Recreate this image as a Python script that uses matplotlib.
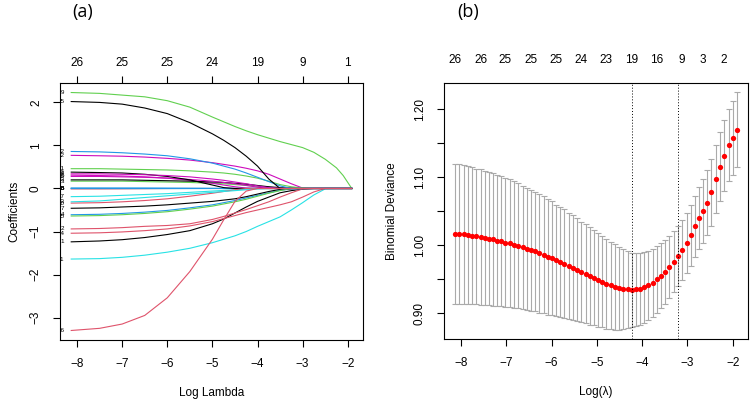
import matplotlib
matplotlib.use("Agg")
import matplotlib.pyplot as plt
import numpy as np

plt.rcParams['font.family'] = ['Liberation Sans', 'DejaVu Sans']

# ---------------- Panel (a): LASSO coefficient paths ----------------
path_log_lambda = [-8.13, -7.5, -7.0, -6.5, -6.0, -5.5, -5.0, -4.75, -4.5, -4.25,
                   -4.0, -3.75, -3.5, -3.25, -3.0, -2.75, -2.5, -2.25, -2.1, -1.91]

v01 = [-1.24, -1.22, -1.19, -1.14, -1.07, -0.98, -0.82, -0.71, -0.57, -0.43, -0.30, -0.20, -0.10, -0.05, -0.015, 0, 0, 0, 0, 0]
v02 = [-0.94, -0.93, -0.91, -0.88, -0.86, -0.82, -0.72, -0.65, -0.57, -0.49, -0.40, -0.31, -0.20, -0.10, -0.01, 0, 0, 0, 0, 0]
v03 = [0.17, 0.17, 0.17, 0.16, 0.15, 0.14, 0.12, 0.11, 0.09, 0.07, 0.05, 0.03, 0.01, 0, 0, 0, 0, 0, 0, 0]
v04 = [-0.61, -0.60, -0.58, -0.55, -0.51, -0.45, -0.38, -0.33, -0.28, -0.22, -0.16, -0.10, -0.04, -0.015, 0, 0, 0, 0, 0, 0]
v05 = [-0.004, -0.004, -0.003, -0.003, -0.002, -0.001, 0, 0, 0, 0, 0, 0, 0, 0, 0, 0, 0, 0, 0, 0]
v06 = [0.31, 0.30, 0.29, 0.27, 0.24, 0.19, 0.12, 0.08, 0.04, 0.01, 0, 0, 0, 0, 0, 0, 0, 0, 0, 0]
v07 = [-0.46, -0.45, -0.43, -0.41, -0.38, -0.34, -0.30, -0.27, -0.24, -0.19, -0.13, -0.07, -0.02, 0, 0, 0, 0, 0, 0, 0]
v08 = [-0.01, -0.01, -0.008, -0.005, -0.002, 0, 0, 0, 0, 0, 0, 0, 0, 0, 0, 0, 0, 0, 0, 0]
v09 = [2.23, 2.21, 2.17, 2.13, 2.04, 1.89, 1.66, 1.55, 1.44, 1.34, 1.25, 1.17, 1.09, 1.02, 0.95, 0.84, 0.68, 0.48, 0.30, 0.0]
v10 = [0.004, 0.004, 0.003, 0.002, 0.001, 0, 0, 0, 0, 0, 0, 0, 0, 0, 0, 0, 0, 0, 0, 0]
v11 = [-1.64, -1.63, -1.60, -1.55, -1.48, -1.39, -1.26, -1.18, -1.10, -1.00, -0.88, -0.77, -0.66, -0.50, -0.33, -0.15, -0.01, 0, 0, 0]
v12 = [0.77, 0.76, 0.75, 0.73, 0.70, 0.66, 0.60, 0.56, 0.52, 0.47, 0.41, 0.33, 0.22, 0.11, 0.01, 0, 0, 0, 0, 0]
v13 = [0.20, 0.20, 0.20, 0.19, 0.18, 0.17, 0.15, 0.14, 0.12, 0.10, 0.07, 0.04, 0.02, 0.005, 0, 0, 0, 0, 0, 0]
v14 = [-1.04, -1.03, -1.01, -0.98, -0.94, -0.87, -0.77, -0.70, -0.63, -0.56, -0.50, -0.44, -0.38, -0.31, -0.20, -0.08, 0, 0, 0, 0]
v15 = [-0.64, -0.63, -0.61, -0.58, -0.54, -0.48, -0.41, -0.36, -0.31, -0.25, -0.18, -0.11, -0.05, 0, 0, 0, 0, 0, 0, 0]
v16 = [0.01, 0.01, 0.01, 0.01, 0.008, 0.005, 0.002, 0, 0, 0, 0, 0, 0, 0, 0, 0, 0, 0, 0, 0]
v17 = [-0.19, -0.18, -0.16, -0.14, -0.12, -0.09, -0.06, -0.045, -0.03, -0.015, 0, 0, 0, 0, 0, 0, 0, 0, 0, 0]
v18 = [0.28, 0.28, 0.27, 0.26, 0.24, 0.21, 0.17, 0.14, 0.11, 0.07, 0.03, 0, 0, 0, 0, 0, 0, 0, 0, 0]
v19 = [0.38, 0.37, 0.36, 0.33, 0.28, 0.20, 0.08, 0.02, 0, 0, 0, 0, 0, 0, 0, 0, 0, 0, 0, 0]
v20 = [-0.34, -0.33, -0.31, -0.28, -0.24, -0.18, -0.11, -0.07, -0.03, 0, 0, 0, 0, 0, 0, 0, 0, 0, 0, 0]
v21 = [0.46, 0.46, 0.45, 0.44, 0.43, 0.41, 0.38, 0.36, 0.33, 0.29, 0.24, 0.17, 0.09, 0.04, 0.01, 0, 0, 0, 0, 0]
v22 = [0.86, 0.85, 0.83, 0.80, 0.76, 0.69, 0.59, 0.52, 0.45, 0.36, 0.26, 0.16, 0.06, 0, 0, 0, 0, 0, 0, 0]
v23 = [-0.31, -0.29, -0.25, -0.21, -0.17, -0.13, -0.09, -0.07, -0.05, -0.03, -0.01, 0, 0, 0, 0, 0, 0, 0, 0, 0]
v24 = [0.34, 0.34, 0.33, 0.32, 0.30, 0.27, 0.22, 0.19, 0.15, 0.11, 0.06, 0.02, 0, 0, 0, 0, 0, 0, 0, 0]
v25 = [2.02, 2.00, 1.96, 1.87, 1.74, 1.53, 1.27, 1.12, 0.95, 0.75, 0.52, 0.22, 0, 0, 0, 0, 0, 0, 0, 0]
v26 = [-3.30, -3.25, -3.15, -2.95, -2.54, -1.93, -1.18, -0.73, -0.30, -0.06, 0, 0, 0, 0, 0, 0, 0, 0, 0, 0]

coef_paths = [v01, v02, v03, v04, v05, v06, v07, v08, v09, v10, v11, v12, v13,
              v14, v15, v16, v17, v18, v19, v20, v21, v22, v23, v24, v25, v26]
var_ids = list(range(1, 27))

path_top_ticks = [-8, -7, -6, -5, -4, -3, -2]
path_top_nz = [26, 25, 25, 24, 19, 9, 1]

# ---------------- Panel (b): cross-validation deviance ----------------
cv_log_lambda = [-8.13, -8.04, -7.94, -7.85, -7.76, -7.67, -7.57, -7.48, -7.39, -7.29,
                 -7.20, -7.11, -7.02, -6.92, -6.83, -6.74, -6.64, -6.55, -6.46, -6.37,
                 -6.27, -6.18, -6.09, -5.99, -5.90, -5.81, -5.72, -5.62, -5.53, -5.44,
                 -5.35, -5.25, -5.16, -5.07, -4.97, -4.88, -4.79, -4.69, -4.60, -4.51,
                 -4.42, -4.32, -4.23, -4.14, -4.04, -3.95, -3.86, -3.77, -3.67, -3.58,
                 -3.49, -3.40, -3.30, -3.21, -3.12, -3.02, -2.93, -2.84, -2.75, -2.65,
                 -2.56, -2.47, -2.37, -2.28, -2.19, -2.09, -2.00, -1.91]
cv_mean = [1.017, 1.016, 1.016, 1.015, 1.014, 1.013, 1.012, 1.011, 1.010, 1.009,
           1.007, 1.006, 1.004, 1.003, 1.001, 0.999, 0.997, 0.995, 0.993, 0.991,
           0.988, 0.986, 0.983, 0.981, 0.978, 0.975, 0.973, 0.970, 0.967, 0.964,
           0.961, 0.958, 0.955, 0.952, 0.949, 0.946, 0.943, 0.941, 0.939, 0.937,
           0.936, 0.935, 0.934, 0.935, 0.936, 0.938, 0.941, 0.945, 0.950, 0.955,
           0.961, 0.968, 0.976, 0.984, 0.993, 1.003, 1.015, 1.028, 1.040, 1.050,
           1.063, 1.078, 1.097, 1.116, 1.132, 1.147, 1.158, 1.170]
cv_se = [0.103, 0.103, 0.102, 0.102, 0.101, 0.100, 0.100, 0.099, 0.098, 0.098,
         0.097, 0.096, 0.095, 0.094, 0.093, 0.092, 0.091, 0.090, 0.089, 0.088,
         0.087, 0.086, 0.085, 0.084, 0.082, 0.081, 0.080, 0.078, 0.077, 0.076,
         0.074, 0.073, 0.072, 0.070, 0.069, 0.067, 0.066, 0.064, 0.063, 0.061,
         0.059, 0.057, 0.055, 0.054, 0.053, 0.052, 0.051, 0.050, 0.049, 0.048,
         0.047, 0.046, 0.045, 0.044, 0.044, 0.044, 0.045, 0.045, 0.046, 0.047,
         0.048, 0.049, 0.050, 0.051, 0.052, 0.053, 0.054, 0.055]
cv_top_pos = [-8.13, -7.57, -7.02, -6.46, -5.90, -5.35, -4.79, -4.23, -3.67, -3.12, -2.65, -2.19]
cv_top_nz = [26, 26, 25, 25, 25, 24, 23, 19, 16, 9, 3, 2]

r_palette = ['#000000', '#DF536B', '#61D04F', '#2297E6', '#28E2E5', '#CD0BBC']

FS = 8.5
fig = plt.figure(figsize=(7.5, 4.03), dpi=100)
W, H = 750.0, 403.0
ax1 = fig.add_axes([60 / W, 1 - 340 / H, 303 / W, 257 / H])
ax2 = fig.add_axes([444 / W, 1 - 339 / H, 304 / W, 256 / H])


def r_lim(lo, hi):
    d = hi - lo
    return lo - 0.04 * d, hi + 0.04 * d


def style_axes(ax):
    for s in ax.spines.values():
        s.set_linewidth(0.8)
        s.set_color('black')
    ax.tick_params(direction='out', length=5, width=0.8, labelsize=FS, pad=8)


# ---- panel (a)
for i, vals in enumerate(coef_paths):
    ax1.plot(path_log_lambda, vals, color=r_palette[i % 6], lw=0.8, solid_joinstyle='round')
allv = np.concatenate([np.asarray(v, float) for v in coef_paths])
ax1.set_xlim(*r_lim(min(path_log_lambda), max(path_log_lambda)))
ax1.set_ylim(*r_lim(allv.min(), allv.max()))
for i, vals in enumerate(coef_paths):
    t = ax1.text(path_log_lambda[0] - 0.15, vals[0], str(var_ids[i]), fontsize=4.5,
                 ha='right', va='center', clip_on=True)
    t.set_clip_path(ax1.patch)
style_axes(ax1)
ax1.set_xticks([-8, -7, -6, -5, -4, -3, -2])
ax1.set_xticklabels(['\u22128', '\u22127', '\u22126', '\u22125', '\u22124', '\u22123', '\u22122'])
ax1.set_yticks([-3, -2, -1, 0, 1, 2])
ax1.set_yticklabels(['\u22123', '\u22122', '\u22121', '0', '1', '2'], rotation=90, va='center')
ax1.set_xlabel('Log Lambda', fontsize=FS, va='center')
ax1.xaxis.set_label_coords(0.5, -0.206)
ax1.set_ylabel('Coefficients', fontsize=FS, va='center')
ax1.yaxis.set_label_coords(-0.149, 0.5)
top1 = ax1.secondary_xaxis('top')
top1.set_xticks(path_top_ticks)
top1.set_xticklabels([str(n) for n in path_top_nz])
top1.tick_params(direction='out', length=5, width=0.8, labelsize=FS, pad=5)
top1.spines['top'].set_visible(False)

# ---- panel (b)
ax2.errorbar(cv_log_lambda, cv_mean, yerr=cv_se, fmt='none', ecolor='#AAAAAA',
             elinewidth=0.8, capsize=2.0, capthick=0.8)
ax2.plot(cv_log_lambda, cv_mean, 'o', color='#FF0000', ms=3.8, mec='#FF0000', mew=0)
up = np.asarray(cv_mean) + np.asarray(cv_se)
lo = np.asarray(cv_mean) - np.asarray(cv_se)
ax2.set_xlim(*r_lim(min(cv_log_lambda), max(cv_log_lambda)))
ax2.set_ylim(*r_lim(lo.min(), up.max()))
imin = int(np.argmin(cv_mean))
thr = cv_mean[imin] + cv_se[imin]
i1se = max(i for i in range(len(cv_mean)) if cv_mean[i] <= thr and i >= imin)
for idx in (imin, i1se):
    ax2.axvline(cv_log_lambda[idx], color='black', lw=0.7, ls=(0, (1, 2)))
style_axes(ax2)
ax2.set_xticks([-8, -7, -6, -5, -4, -3, -2])
ax2.set_xticklabels(['\u22128', '\u22127', '\u22126', '\u22125', '\u22124', '\u22123', '\u22122'])
ax2.set_yticks([0.90, 0.95, 1.00, 1.05, 1.10, 1.15, 1.20])
ax2.set_yticklabels(['0.90', '', '1.00', '', '1.10', '', '1.20'], rotation=90, va='center')
ax2.set_xlabel('Log(\u03bb)', fontsize=FS, va='center')
ax2.xaxis.set_label_coords(0.5, -0.207)
ax2.set_ylabel('Binomial Deviance', fontsize=FS, va='center')
ax2.yaxis.set_label_coords(-0.171, 0.5)
top2 = ax2.secondary_xaxis('top')
top2.set_xticks(cv_top_pos)
top2.set_xticklabels([str(n) for n in cv_top_nz])
top2.tick_params(length=0, labelsize=FS, pad=12)
top2.spines['top'].set_visible(False)

fig.text(83 / W, 1 - 12 / H, '(a)', fontsize=13, family=['Open Sans', 'DejaVu Sans'],
         ha='center', va='center')
fig.text(468 / W, 1 - 12 / H, '(b)', fontsize=13, family=['Open Sans', 'DejaVu Sans'],
         ha='center', va='center')

fig.savefig('out.png', dpi=100)
